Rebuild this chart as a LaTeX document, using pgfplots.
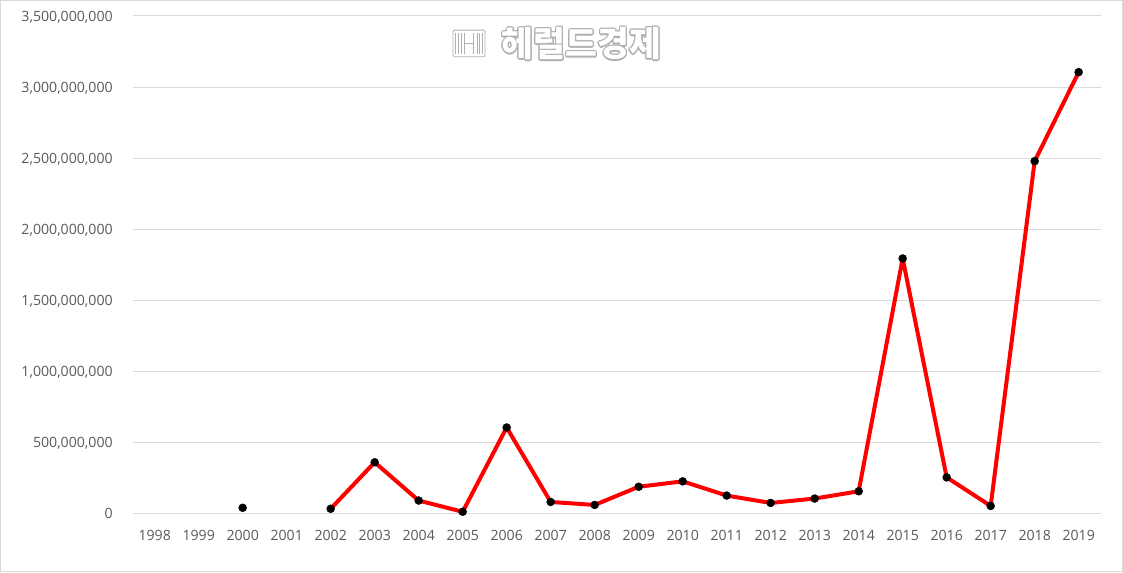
\documentclass[border=0pt]{standalone}
\usepackage{pgfplots}
\pgfplotsset{compat=1.18}
\usepackage{fontspec}
\setmainfont{Open Sans}
\newfontfamily\krfont{Noto Sans CJK KR}
\usepackage{contour}
\contourlength{0.8pt}
\definecolor{gridc}{HTML}{D9D9D9}
\definecolor{labc}{HTML}{595959}
\definecolor{wmc}{HTML}{B0B0B0}

\begin{document}
\begin{tikzpicture}
\useasboundingbox (0,0) rectangle (842.25pt,429pt);
\draw[gridc, line width=0.75pt] (0.4pt,0.4pt) rectangle (841.85pt,428.6pt);

\begin{axis}[
    at={(99.5pt,43.9pt)}, anchor=south west,
    scale only axis,
    width=726pt, height=373.1pt,
    xmin=-0.5, xmax=21.5,
    ymin=0, ymax=3500000000,
    xtick={0,...,21},
    xticklabels={1998,1999,2000,2001,2002,2003,2004,2005,2006,2007,2008,2009,2010,2011,2012,2013,2014,2015,2016,2017,2018,2019},
    ytick={0,500000000,1000000000,1500000000,2000000000,2500000000,3000000000,3500000000},
    yticklabels={{0},{500,000,000},{1,000,000,000},{1,500,000,000},{2,000,000,000},{2,500,000,000},{3,000,000,000},{3,500,000,000}},
    axis x line*=bottom,
    axis y line*=left,
    x axis line style={draw=gridc, line width=0.75pt, -},
    y axis line style={draw=none},
    major tick length=0pt,
    ymajorgrids,
    grid style={draw=gridc, line width=0.75pt},
    tick label style={font=\fontsize{10.6}{12}\selectfont, text=labc},
    xticklabel style={anchor=north, inner sep=0pt, yshift=-12.4pt},
    yticklabel style={anchor=east, inner sep=0pt, text depth=0pt, xshift=-14.8pt},
    scaled y ticks=false,
    unbounded coords=jump,
    clip=false,
]
    % Serie: valores por año (1998, 1999, 2001 sin dato)
    \addplot[red, line width=3pt, line join=round,
        mark=*, mark size=3pt, mark options={solid, fill=black, draw=black, line width=0.3pt}]
    coordinates {
        (2,40000000) (3,nan)
        (4,33000000) (5,360000000) (6,91000000) (7,12000000)
        (8,605000000) (9,81000000) (10,60000000) (11,188000000)
        (12,226000000) (13,126000000) (14,74000000) (15,105000000)
        (16,156000000) (17,1794000000) (18,254000000) (19,53000000)
        (20,2479000000) (21,3105000000)
    };
\end{axis}

% Marca de agua
\begin{scope}[shift={(351.8pt,396.4pt)}, draw=wmc, line width=0.6pt]
    \draw[rounded corners=1pt] (-12pt,-10pt) rectangle (12pt,10pt);
    \foreach \x in {-10,-8,-6,6,8,10} \draw (\x pt,-8pt) -- (\x pt,8pt);
    \draw (-3.5pt,-8pt) -- (-3.5pt,8pt) (3.5pt,-8pt) -- (3.5pt,8pt) (-3.5pt,0) -- (3.5pt,0);
\end{scope}
\node[inner sep=0pt] at (436.1pt,395.6pt)
    {\contour{wmc}{\textcolor{white}{\krfont\bfseries\fontsize{26}{28}\selectfont 헤럴드경제}}};
\end{tikzpicture}
\end{document}
